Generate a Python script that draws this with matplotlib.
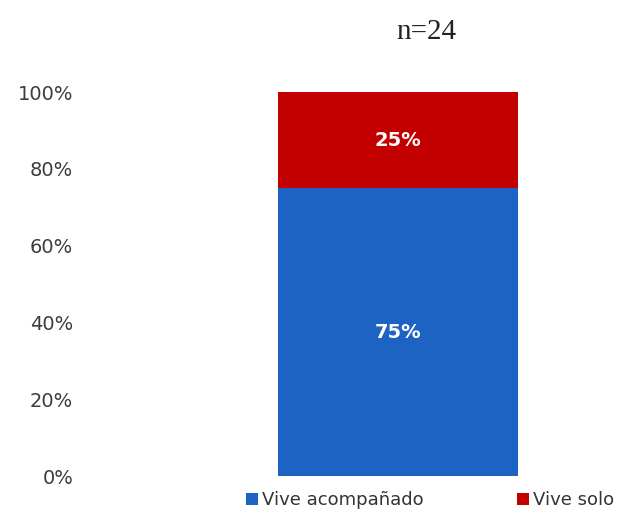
import matplotlib
matplotlib.use("Agg")
import matplotlib.pyplot as plt
from matplotlib.patches import Patch

categories = ["n=24"]
series_names = ["Vive acompañado", "Vive solo"]
values_acomp = [75]
values_solo = [25]
yticks = [0, 20, 40, 60, 80, 100]
ytick_labels = ["0%", "20%", "40%", "60%", "80%", "100%"]
colors = ["#1c63c3", "#c20000"]

fig = plt.figure(figsize=(6.24, 5.17), dpi=100)
ax = fig.add_axes([90/624, 1-476/517, 520/624, (476-92)/517])

x = [0]
b1 = ax.bar(x, values_acomp, width=1.0, color=colors[0])
b2 = ax.bar(x, values_solo, width=1.0, bottom=values_acomp, color=colors[1])

for bars, vals, bottoms in [(b1, values_acomp, [0]), (b2, values_solo, values_acomp)]:
    for rect, v, bt in zip(bars, vals, bottoms):
        ax.text(rect.get_x() + rect.get_width()/2, bt + v/2, f"{v}%",
                ha="center", va="center", color="white", fontsize=14,
                fontweight="bold", family="DejaVu Sans")

ax.set_xlim(-1.2833, 0.8833)
ax.set_ylim(0, 100)
ax.set_yticks(yticks)
ax.set_yticklabels(ytick_labels, fontsize=14, color="#3c3c3c")
ax.set_xticks([])
ax.tick_params(axis="y", length=0, pad=12)
for s in ax.spines.values():
    s.set_visible(False)

fig.text(426/624, 1-32/517, categories[0], ha="center", va="center",
         fontsize=21, family="Liberation Serif", color="#222222")

handles = [Patch(facecolor=colors[0], label=series_names[0]),
           Patch(facecolor=colors[1], label=series_names[1])]
fig.legend(handles=handles, loc="center", bbox_to_anchor=(430/624, 1-500/517),
           ncol=2, frameon=False, fontsize=13, handlelength=0.65,
           handleheight=0.65, handletextpad=0.2, columnspacing=5.2,
           labelcolor="#333333")

fig.savefig("out.png", dpi=100)
